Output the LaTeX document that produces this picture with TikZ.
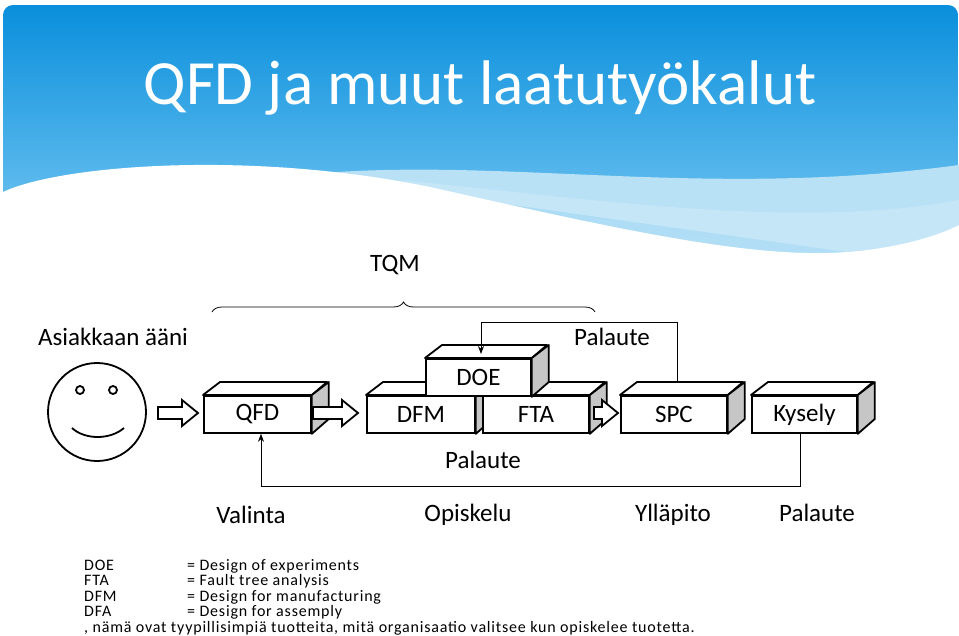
\documentclass[tikz,border=0pt]{standalone}
\usepackage{fontspec}
\setmainfont{Carlito}
\usetikzlibrary{arrows.meta,decorations.pathreplacing}
\definecolor{topblue}{HTML}{0A8FDC}
\definecolor{midblue}{HTML}{5CBDF0}
\definecolor{lightband}{HTML}{A8DAF3}
\tikzset{
  lbl/.style={font=\fontsize{25}{28}\selectfont, inner sep=0pt},
  leg/.style={font=\fontsize{16}{18}\selectfont\addfontfeatures{LetterSpace=5}, inner sep=0pt, anchor=base west},
  boxfront/.style={draw, line width=1.8pt, fill=white, font=\fontsize{25}{28}\selectfont, inner sep=0pt},
  blk/.style={draw, line width=1.8pt, fill=white, line join=miter},
  line/.style={line width=0.8pt}
}
\newcommand{\cubebox}[6]{% name, x1,y1,x2,y2,text
  \node[boxfront, minimum width=#4-#2, minimum height=#5-#3, anchor=north west] (#1) at (#2,#3) {#6};
  \draw[fill=white,line width=1.8pt,line join=round] (#1.north west) -- ++(17,-13) -- ++(#4-#2,0) -- (#1.north east) -- cycle;
  \draw[fill=gray!45,line width=1.8pt,line join=round] (#1.north east) -- ++(17,-13) -- ++(0,#5-#3) -- (#1.south east) -- cycle;
}
% block arrow: name, x start, x end, y centre
\newcommand{\blkarrow}[4]{%
  \coordinate (#1) at (#2,#4);
  \draw[blk] (#1) ++(0,-6) -- ++(#3-#2-16,0) -- ++(0,-7) -- (#3,#4) -- ++(-16,13) -- ++(0,-7) -- ++(#2-#3+16,0) -- cycle;
}
\begin{document}
\begin{tikzpicture}[x=1pt,y=-1pt]
\useasboundingbox (0,0) rectangle (959,635);
\fill[white] (0,0) rectangle (959,635);
\shade[top color=topblue, bottom color=midblue!80, rounded corners=10pt] (3,5) rectangle (958,262);
\fill[lightband!80] (300,175) .. controls (500,155) and (700,200) .. (959,165) -- (959,240) -- (847,252) -- cycle;
\fill[lightband!60,opacity=0.7] (400,180) .. controls (600,200) and (800,230) .. (959,200) -- (959,262) -- (700,262) -- cycle;
\fill[white] (3,192) .. controls (60,165) and (250,150) .. (430,187) .. controls (600,225) and (750,260) .. (847,252) .. controls (900,248) and (940,235) .. (959,225) -- (959,262) -- (3,262) -- cycle;
\fill[white] (0,258) rectangle (959,635);
\node[text=white, font=\fontsize{63}{66}\selectfont, inner sep=0pt] (title) at (480,88) {QFD ja muut laatutyökalut};

\node[lbl] (tqm) at (395,265) {TQM};
\draw[line, decorate, decoration={brace, amplitude=10pt}] (212,312) -- (595,312);
\node[lbl] (voice) at (113,337) {Asiakkaan ääni};

% smiley
\draw[line width=1.8pt] (97,412) circle (49);
\draw[line width=1.8pt] (80,390) circle (4);
\draw[line width=1.8pt] (113,390) circle (4);
\draw[line width=1.8pt] (72,428) .. controls (85,440) and (110,440) .. (124,428);

\cubebox{qfd}{203}{395}{310}{432}{QFD}
\cubebox{dfm}{366}{395}{474}{432}{DFM}
\cubebox{fta}{482}{395}{588}{432}{FTA}
\cubebox{doe}{425}{358}{530}{395}{DOE}
\cubebox{spc}{620}{395}{726}{432}{SPC}
\cubebox{kys}{751}{395}{856}{432}{Kysely}

\blkarrow{a1}{158}{198}{413}
\blkarrow{a2}{313}{358}{413}
\blkarrow{a3}{594}{618}{413}

% feedback top
\coordinate (t1) at (481,322);
\coordinate (t2) at (677,322);
\draw[line,-{Stealth[length=8pt,width=6pt]}] (677,383) -- (t2) -- (t1) -- (481,354);
\node[lbl] (pal1) at (612,337) {Palaute};
% feedback bottom
\coordinate (b1) at (800,486);
\coordinate (b2) at (261,486);
\draw[line,-{Stealth[length=8pt,width=6pt]}] (kys.south -| b1) -- (b1) -- (b2) -- (qfd.south -| b2);
\node[lbl] (pal2) at (483,460) {Palaute};

\node[lbl] (v) at (251,515) {Valinta};
\node[lbl] (o) at (468,515) {Opiskelu};
\node[lbl] (y) at (673,515) {Ylläpito};
\node[lbl] (p) at (817,513) {Palaute};

\node[leg] (l1) at (84,570) {DOE};
\node[leg] (l1b) at (187,570) {= Design of experiments};
\node[leg] (l2) at (84,585) {FTA};
\node[leg] (l2b) at (187,585) {= Fault tree analysis};
\node[leg] (l3) at (84,601) {DFM};
\node[leg] (l3b) at (187,601) {= Design for manufacturing};
\node[leg] (l4) at (84,616) {DFA};
\node[leg] (l4b) at (187,616) {= Design for assemply};
\node[leg] (l5) at (84,632) {, nämä ovat tyypillisimpiä tuotteita, mitä organisaatio valitsee kun opiskelee tuotetta.};
\end{tikzpicture}
\end{document}
